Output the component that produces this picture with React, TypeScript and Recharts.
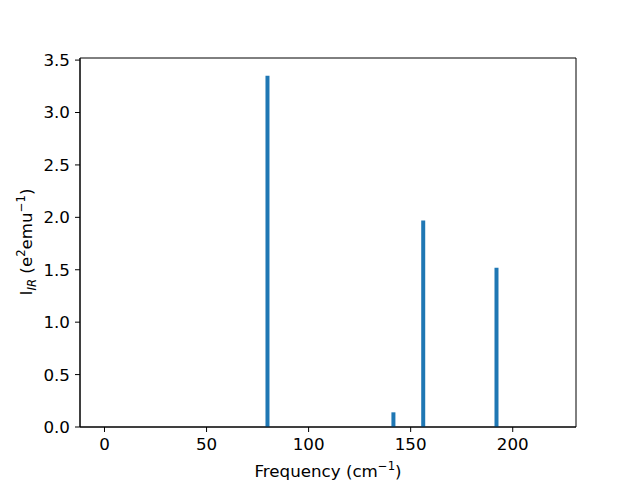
import { BarChart, Bar, XAxis, YAxis, ReferenceArea, Label } from 'recharts';

// IR-active modes: frequency (cm^-1) and intensity (e^2 emu^-1)
const frequencies = [79.8, 141.5, 156.1, 192.0];
const intensities = [3.35, 0.14, 1.97, 1.52];
const xTicks = [0, 50, 100, 150, 200];
const yTicks = [0, 0.5, 1.0, 1.5, 2.0, 2.5, 3.0, 3.5];

const xDomain: [number, number] = [-12, 231];
const yDomain: [number, number] = [0, 3.52];

const data = frequencies.map((f, i) => ({ freq: f, intensity: intensities[i] }));

const font = 'DejaVu Sans, sans-serif';
const fs = 16.7;
const sub = 11.7;

function XTitle() {
  return (
    <text x={328} y={477} textAnchor="middle" fontFamily={font} fontSize={fs} fill="#000">
      Frequency (cm
      <tspan dy={-7} fontSize={sub}>−1</tspan>
      <tspan dy={7}>)</tspan>
    </text>
  );
}

function YTitle() {
  return (
    <text
      x={0}
      y={0}
      transform="translate(32,242) rotate(-90)"
      textAnchor="middle"
      fontFamily={font}
      fontSize={fs}
      fill="#000"
    >
      I
      <tspan dy={4} fontSize={sub} fontStyle="italic">IR</tspan>
      <tspan dy={-4}> (e</tspan>
      <tspan dy={-7} fontSize={sub}>2</tspan>
      <tspan dy={7}>emu</tspan>
      <tspan dy={-7} fontSize={sub}>−1</tspan>
      <tspan dy={7}>)</tspan>
    </text>
  );
}

export default function App() {
  return (
    <div style={{ position: 'absolute', left: 0, top: 0, width: 640, height: 480, background: '#fff' }}>
      <BarChart
        width={640}
        height={480}
        data={data}
        margin={{ top: 58, right: 64, bottom: 13, left: 20 }}
      >
        <XAxis
          dataKey="freq"
          type="number"
          domain={xDomain}
          ticks={xTicks}
          allowDataOverflow
          height={40}
          tickSize={5}
          tickMargin={6}
          tick={{ fill: '#000', fontSize: fs, fontFamily: font }}
          axisLine={{ stroke: '#000' }}
          tickLine={{ stroke: '#000' }}
        >
          <Label content={<XTitle />} />
        </XAxis>
        <YAxis
          type="number"
          domain={yDomain}
          ticks={yTicks}
          allowDataOverflow
          width={60}
          tickSize={5}
          tickMargin={5}
          tickFormatter={(v: number) => v.toFixed(1)}
          tick={{ fill: '#000', fontSize: fs, fontFamily: font }}
          axisLine={{ stroke: '#000' }}
          tickLine={{ stroke: '#000' }}
        >
          <Label content={<YTitle />} />
        </YAxis>
        <Bar dataKey="intensity" fill="#1f77b4" barSize={4} isAnimationActive={false} />
        <ReferenceArea
          x1={xDomain[0]}
          x2={xDomain[1]}
          y1={yDomain[0]}
          y2={yDomain[1]}
          fill="none"
          fillOpacity={0}
          stroke="#000"
          strokeOpacity={1}
        />
      </BarChart>
    </div>
  );
}
